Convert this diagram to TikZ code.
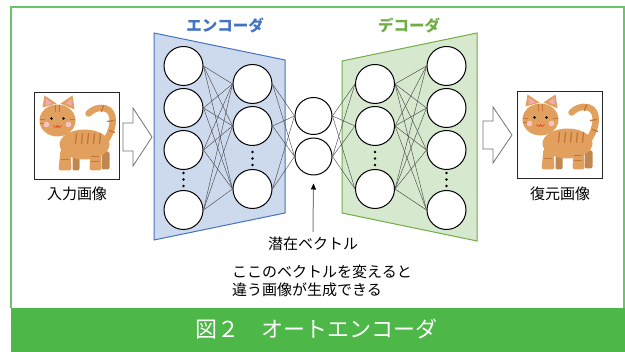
\documentclass[tikz,border=0pt]{standalone}
\usepackage{fontspec}
\setmainfont{Noto Sans CJK JP}
\usetikzlibrary{arrows.meta}
\colorlet{encx}{blue!45!cyan!70!black}
\definecolor{encx}{RGB}{68,114,196}
\definecolor{encfill}{RGB}{205,218,238}
\definecolor{decx}{RGB}{112,173,71}
\definecolor{decfill}{RGB}{214,232,206}
\definecolor{frx}{RGB}{108,196,106}
\definecolor{barx}{RGB}{77,183,72}
\definecolor{catfur}{RGB}{226,160,94}
\definecolor{catstripe}{RGB}{196,118,58}
\definecolor{catear}{RGB}{240,170,185}
\tikzset{
    neuron/.style={circle,draw=black,line width=1pt,fill=white,inner sep=0pt,minimum size=39pt},
    link/.style={black!70,line width=0.45pt},
    imgbox/.style={draw=black!85,line width=0.8pt,inner sep=0pt,minimum width=85pt,minimum height=87pt},
    bigarrow/.style={draw=black!55,fill=white,line width=0.8pt},
    jtext/.style={inner sep=0pt,font=\fontsize{15}{18.5}\selectfont},
    stripe/.style={catstripe,line width=1.3pt,line cap=round},
    cat/.pic={
        % far legs and tail
        \fill[catfur!85!black,rounded corners=2pt] (-4,18) rectangle (3,35);
        \fill[catfur!85!black,rounded corners=2pt] (25,16) rectangle (33,34);
        \draw[catfur,line width=6.5pt,line cap=round]
            (30,4) .. controls (38,-8) and (39,-24) .. (29,-27)
            .. controls (22,-29) and (16,-26) .. (12,-22);
        \draw[stripe] (31,-14) -- (37,-15);
        \draw[stripe] (25,-24) -- (27,-30);
        \draw[stripe] (33,-5) -- (38,-3);
        % body
        \fill[catfur] (8,9) ellipse [x radius=25, y radius=15];
        % near legs
        \fill[catfur,rounded corners=2.5pt] (-16,14) -- (-6,14) -- (-5,35) -- (-18,35) -- cycle;
        \fill[catfur,rounded corners=2.5pt] (14,14) -- (24,14) -- (25,35) -- (13,35) -- cycle;
        \foreach \x in {0,6,12,18,24} {
            \draw[stripe] (\x,-2) -- (\x-1,8);
        }
        \draw[stripe] (-15,24) -- (-8,24);
        \draw[stripe] (15,26) -- (22,26);
        \draw[stripe] (15,21) -- (22,21);
        % head and ears
        \fill[catfur] (-34,-28) -- (-32,-40) -- (-20,-32) -- cycle;
        \fill[catfur] (-16,-32) -- (-4,-40) -- (-2,-26) -- cycle;
        \fill[catear] (-31,-30) -- (-31,-37) -- (-24,-32) -- cycle;
        \fill[catear] (-11,-32) -- (-5,-37) -- (-5,-30) -- cycle;
        \fill[catfur] (-19,-15) ellipse [x radius=18, y radius=16];
        \draw[stripe] (-21,-30) -- (-21,-24);
        \draw[stripe] (-17,-30) -- (-17,-24);
        \draw[stripe] (-36,-16) -- (-32,-16);
        \draw[stripe] (-36,-12) -- (-32,-12);
        \draw[stripe] (-2,-16) -- (-6,-16);
        \fill[catear!70] (-30,-11) circle [radius=2.8];
        \fill[catear!70] (-8,-11) circle [radius=2.8];
        \fill (-25,-17) circle [radius=1.4];
        \fill (-13,-17) circle [radius=1.4];
        \draw[red!50!brown,line width=0.7pt] (-23,-10) .. controls (-21,-7) and (-19,-8) .. (-19,-10)
            .. controls (-19,-8) and (-17,-7) .. (-15,-10);
    }
}

\begin{document}
\begin{tikzpicture}[x=1pt,y=-1pt]
    \useasboundingbox (0,0) rectangle (625,352);
    % frame and caption bar
    \fill[barx] (11,308) rectangle (625,352);
    \draw[frx,line width=2pt] (11,308) -- (11,7) -- (624,7) -- (624,308);
    \node[anchor=west,inner sep=0pt,white,font=\fontsize{22}{26}\selectfont] (caption) at (195,329) {図２　オートエンコーダ};

    % encoder and decoder bodies
    \draw[encx,fill=encfill,line width=1pt] (154,33) -- (285,60) -- (285,213) -- (154,240) -- cycle;
    \draw[decx,fill=decfill,line width=1pt] (342,61) -- (477,33) -- (477,241) -- (342,213) -- cycle;
    \node[jtext,encx,font=\fontsize{15.5}{18}\selectfont\bfseries] (enctitle) at (225,25) {エンコーダ};
    \node[jtext,decx,font=\fontsize{15.5}{18}\selectfont\bfseries] (dectitle) at (409,25) {デコーダ};

    % layers
    \foreach \i/\y in {1/66,2/108,3/150,4/210} {
        \node[neuron] (ea\i) at (183.5,\y) {};
        \node[neuron] (db\i) at (446.5,\y) {};
    }
    \foreach \i/\y in {1/84,2/126,3/189} {
        \node[neuron] (eb\i) at (252.5,\y) {};
        \node[neuron] (da\i) at (375,\y) {};
    }
    \foreach \i/\y in {1/116,2/156.5} {
        \node[neuron,minimum size=37pt] (z\i) at (313.5,\y) {};
    }

    % weights
    \foreach \i in {1,...,4} {
        \foreach \j in {1,...,3} {
            \draw[link] (ea\i.east) -- (eb\j.west);
            \draw[link] (da\j.east) -- (db\i.west);
        }
    }
    \foreach \j in {1,...,3} {
        \foreach \k in {1,2} {
            \draw[link] (eb\j.east) -- (z\k.west);
            \draw[link] (z\k.east) -- (da\j.west);
        }
    }

    % skipped units
    \foreach \y in {0,6.5,13} {
        \fill (183.5,173+\y) circle [radius=1.3];
        \fill (446.5,173+\y) circle [radius=1.3];
        \fill (252.5,152+\y) circle [radius=1.3];
        \fill (375,152+\y) circle [radius=1.3];
    }

    % images
    \node[imgbox] (inimg) at (76.5,135.5) {};
    \node[imgbox] (outimg) at (559.5,134.5) {};
    \pic at (inimg) {cat};
    \pic at (outimg) {cat};
    \node[jtext] (inlabel) at (77,194) {入力画像};
    \node[jtext] (outlabel) at (560,194) {復元画像};
    \draw[bigarrow] (123,123) -- (133,123) -- (133,108) -- (152,137) -- (133,166) -- (133,151) -- (123,151) -- cycle;
    \draw[bigarrow] (483,121) -- (493,121) -- (493,107) -- (512,135) -- (493,163) -- (493,149) -- (483,149) -- cycle;

    % latent vector
    \node[jtext] (zlabel) at (313,244) {潜在ベクトル};
    \draw[black!50,line width=1pt,-{Triangle[length=6pt,width=5pt,black]}]
        ([yshift=5pt]zlabel.north) -- ([yshift=-8pt]z2.south);
    \node[jtext,anchor=west,align=left] (note) at (232,281)
        {ここのベクトルを変えると\\違う画像が生成できる};
\end{tikzpicture}
\end{document}
